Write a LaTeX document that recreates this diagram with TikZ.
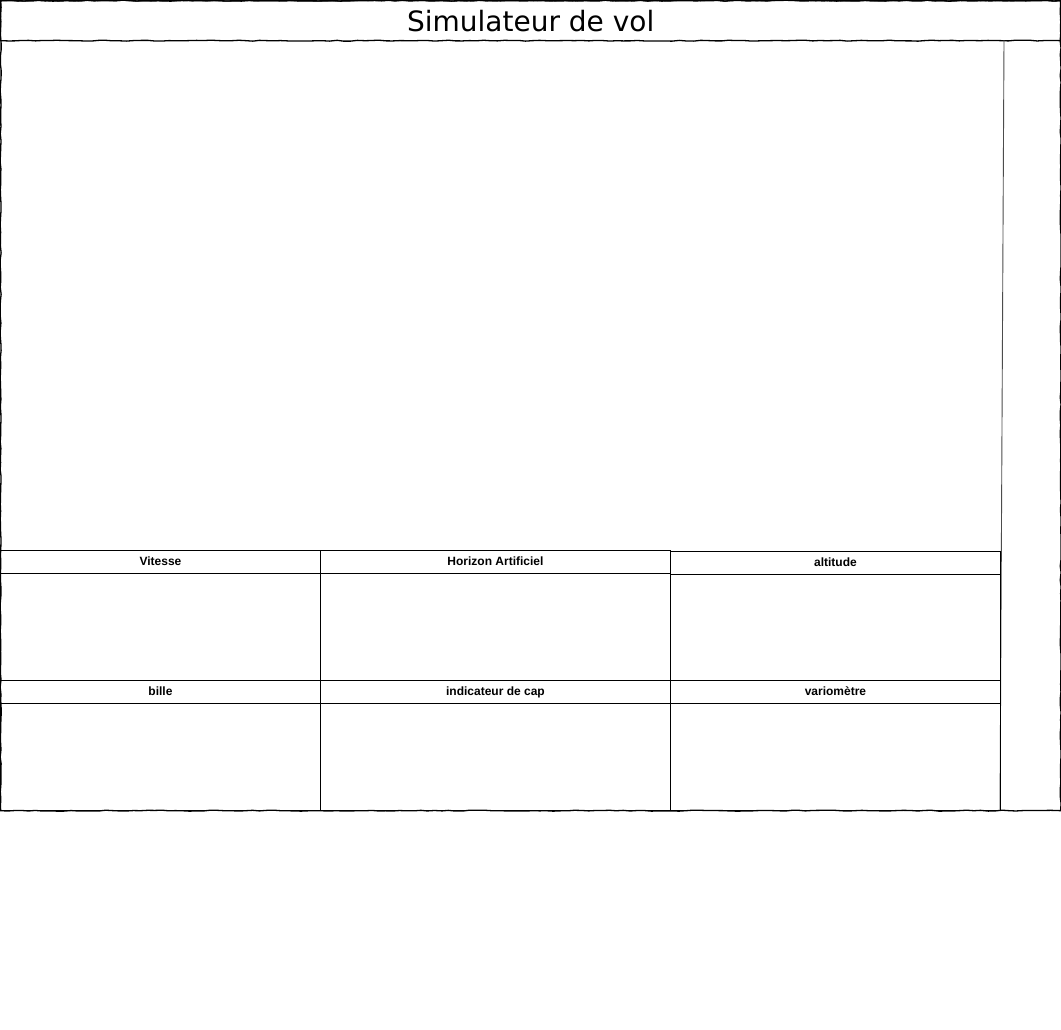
\documentclass[tikz,border=0pt]{standalone}
\usepackage{fontspec}
\setmainfont{Liberation Sans}
\newfontfamily\titlefont{DejaVu Sans}
\usetikzlibrary{decorations.pathmorphing}
\tikzstyle{sketch} = [rectangle, draw=black, line width=1.3pt, inner sep=0pt, anchor=north west, decorate, decoration={random steps, segment length=7pt, amplitude=0.5pt}]
\tikzstyle{panel} = [rectangle, draw=black, line width=0.9pt, inner sep=0pt, anchor=north west, minimum height=130pt]
\tikzstyle{header} = [rectangle, draw=black, line width=0.9pt, inner sep=0pt, anchor=north west, minimum height=23pt, text height=9pt, text depth=2.5pt, font=\bfseries\fontsize{12}{14}\selectfont]
\tikzstyle{divider} = [line width=0.9pt, draw=black!70]

\begin{document}
\begin{tikzpicture}[x=1pt, y=-1pt]
		\useasboundingbox (0,0) rectangle (1061,1029);
		\node (frame) [sketch, minimum width=1060pt, minimum height=810pt] at (0,0) {};
		\node (titlebar) [sketch, minimum width=1060pt, minimum height=40pt, font=\titlefont\fontsize{28}{32}\selectfont] at (0,0) {Simulateur de vol};
		\coordinate (sideTop) at (1004,40);
		\coordinate (sideBot) at (1000,810);
		\draw [divider] (sideTop) -- (sideBot);
		% first row
		\node (vitesse) [panel, minimum width=320pt] at (0,550) {};
		\node (vitesseHead) [header, minimum width=320pt] at (0,550) {Vitesse};
		\node (horizon) [panel, minimum width=350pt] at (320,550) {};
		\node (horizonHead) [header, minimum width=350pt] at (320,550) {Horizon Artificiel};
		\node (altitude) [panel, minimum width=330pt, minimum height=129pt] at (670,551) {};
		\node (altitudeHead) [header, minimum width=330pt] at (670,551) {altitude};
		% second row
		\node (bille) [panel, minimum width=320pt] at (0,680) {};
		\node (billeHead) [header, minimum width=320pt] at (0,680) {bille};
		\node (cap) [panel, minimum width=350pt] at (320,680) {};
		\node (capHead) [header, minimum width=350pt] at (320,680) {indicateur de cap};
		\node (vario) [panel, minimum width=330pt] at (670,680) {};
		\node (varioHead) [header, minimum width=330pt] at (670,680) {variomètre};
	\end{tikzpicture}
\end{document}
